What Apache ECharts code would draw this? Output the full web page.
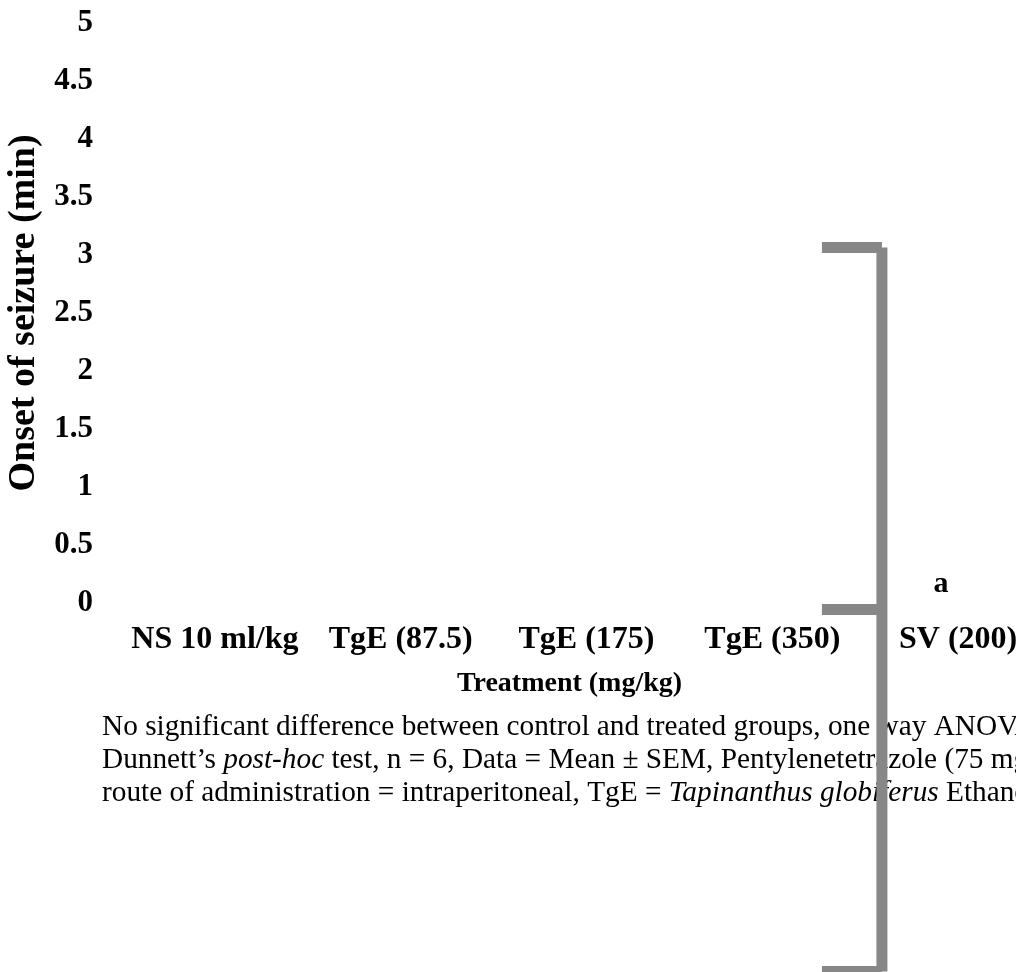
<!DOCTYPE html>
<html><head><meta charset="utf-8">
<script src="https://cdn.jsdelivr.net/npm/echarts@6/dist/echarts.min.js"></script>
<style>html,body{margin:0;padding:0;background:#fff}#c{width:1016px;height:972px}</style>
</head><body><div id="c"></div>
<script>
// ---- data ----
const categories = ['NS 10 ml/kg', 'TgE (87.5)', 'TgE (175)', 'TgE (350)', 'SV (200)'];
const barValues = [0, 0, 0, 0, 0];
const sigLabels = ['', '', '', '', 'a'];
const yMin = 0, yMax = 5, yStep = 0.5;
const bracketPos = [3.59];      // position along the category axis
const bracketMean = [-0.056];
const bracketErr = [3.12];
const captionLines = [
  '{n|No significant difference between control and treated groups, one way ANOVA followed by}',
  '{n|Dunnett\u2019s }{i|post-hoc}{n| test, n = 6, Data = Mean \u00b1 SEM, Pentylenetetrazole (75 mg/kg)}',
  '{n|route of administration = intraperitoneal, TgE = }{i|Tapinanthus globiferus}{n| Ethanol extract}'
];

// ---- chart ----
const FF = 'Liberation Serif';
const chart = echarts.init(document.getElementById('c'), null, {renderer: 'canvas'});
const capRich = {
  n: {fontFamily: FF, fontSize: 29.3, fill: '#000', color: '#000', lineHeight: 33},
  i: {fontFamily: FF, fontSize: 29.3, fontStyle: 'italic', fill: '#000', color: '#000', lineHeight: 33}
};
chart.setOption({
  backgroundColor: '#fff',
  animation: false,
  grid: {left: 122, width: 929, top: 23, height: 580, containLabel: false, outerBoundsMode: 'none'},
  xAxis: [{
    type: 'category', data: categories,
    axisLine: {show: false}, axisTick: {show: false}, splitLine: {show: false},
    axisLabel: {interval: 0, margin: 21, color: '#000', fontFamily: FF, fontWeight: 'bold', fontSize: 32, hideOverlap: false},
    name: 'Treatment (mg/kg)', nameLocation: 'middle', nameGap: 67,
    nameTextStyle: {color: '#000', fontFamily: FF, fontWeight: 'bold', fontSize: 28, padding: [0, 34, 0, 0]}
  }, {
    type: 'value', min: -0.5, max: 4.5, show: false
  }],
  yAxis: [{
    type: 'value', min: yMin, max: yMax, interval: yStep,
    axisLine: {show: false}, axisTick: {show: false}, splitLine: {show: false},
    axisLabel: {margin: 29, color: '#000', fontFamily: FF, fontWeight: 'bold', fontSize: 31},
    name: 'Onset of seizure (min)', nameLocation: 'middle', nameGap: 78, nameRotate: 90,
    nameTextStyle: {color: '#000', fontFamily: FF, fontWeight: 'bold', fontSize: 38}
  }],
  series: [{
    type: 'bar', data: barValues, xAxisIndex: 0, yAxisIndex: 0, barWidth: '60%',
    itemStyle: {color: '#ffffff'},
    label: {
      show: true, position: 'top', distance: 4, offset: [-17, 0],
      formatter: p => sigLabels[p.dataIndex],
      color: '#000', fontFamily: FF, fontWeight: 'bold', fontSize: 30
    }
  }, {
    type: 'custom', xAxisIndex: 1, yAxisIndex: 0, clip: false, z: 10,
    data: bracketPos.map((x, i) => [x, bracketMean[i], bracketErr[i]]),
    renderItem: function (params, api) {
      const x = api.value(0), m = api.value(1), e = api.value(2);
      const c = api.coord([x, m]), t = api.coord([x, m + e]), b = api.coord([x, m - e]);
      const capW = 60;
      const st = {stroke: '#878787', lineWidth: 11, lineCap: 'butt', fill: null};
      return {type: 'group', children: [
        {type: 'line', shape: {x1: c[0], y1: t[1], x2: c[0], y2: b[1]}, style: st},
        {type: 'line', shape: {x1: c[0] - capW, y1: t[1], x2: c[0], y2: t[1]}, style: st},
        {type: 'line', shape: {x1: c[0] - capW, y1: c[1], x2: c[0], y2: c[1]}, style: st},
        {type: 'line', shape: {x1: c[0] - capW, y1: b[1], x2: c[0], y2: b[1]}, style: st}
      ]};
    }
  }],
  graphic: captionLines.map((t, i) => ({
    type: 'text', z: 0, x: 102, y: 727 + i * 33,
    style: {text: t, rich: capRich, fontFamily: FF, fontSize: 29.3, fill: '#000', verticalAlign: 'middle', align: 'left'}
  }))
});
</script>
</body></html>
